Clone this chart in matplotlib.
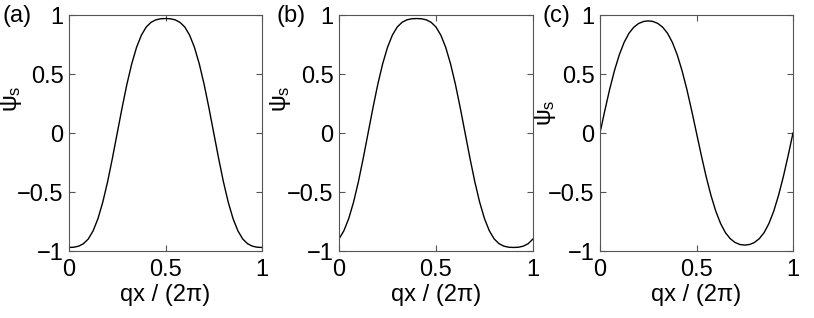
import matplotlib
matplotlib.use("Agg")
import matplotlib.pyplot as plt
import numpy as np

plt.rcParams["font.family"] = ["Liberation Sans", "DejaVu Sans"]
plt.rcParams["mathtext.fontset"] = "custom"
plt.rcParams["mathtext.rm"] = "Liberation Sans"
plt.rcParams["mathtext.it"] = "Liberation Sans"

# qx/(2pi) sample positions, step 0.025
x = [i * 0.025 for i in range(41)]

psi_a = [-0.970, -0.968, -0.959, -0.938, -0.898, -0.829, -0.726, -0.586, -0.413, -0.213,
         0.000, 0.213, 0.413, 0.586, 0.726, 0.829, 0.898, 0.938, 0.959, 0.968,
         0.970, 0.968, 0.959, 0.938, 0.898, 0.829, 0.726, 0.586, 0.413, 0.213,
         0.000, -0.213, -0.413, -0.586, -0.726, -0.829, -0.898, -0.938, -0.959, -0.968,
         -0.970]

psi_b = [-0.898, -0.829, -0.726, -0.586, -0.413, -0.213, 0.000, 0.213, 0.413, 0.586,
         0.726, 0.829, 0.898, 0.938, 0.959, 0.968, 0.970, 0.968, 0.959, 0.938,
         0.898, 0.829, 0.726, 0.586, 0.413, 0.213, 0.000, -0.213, -0.413, -0.586,
         -0.726, -0.829, -0.898, -0.938, -0.959, -0.968, -0.970, -0.968, -0.959, -0.938,
         -0.898]

psi_c = [0.000, 0.190, 0.370, 0.529, 0.663, 0.768, 0.845, 0.896, 0.928, 0.945,
         0.950, 0.945, 0.928, 0.896, 0.845, 0.768, 0.663, 0.529, 0.370, 0.190,
         0.000, -0.190, -0.370, -0.529, -0.663, -0.768, -0.845, -0.896, -0.928, -0.945,
         -0.950, -0.945, -0.928, -0.896, -0.845, -0.768, -0.663, -0.529, -0.370, -0.190,
         0.000]

panel_labels = ["(a)", "(b)", "(c)"]
xticks = [0, 0.5, 1]
xticklabels = ["0", "0.5", "1"]
yticks = [-1, -0.5, 0, 0.5, 1]
yticklabels = ["\u22121", "\u22120.5", "0", "0.5", "1"]

W, H = 814, 318
FS = 17
fig = plt.figure(figsize=(W / 100, H / 100), dpi=100)
fig.patch.set_facecolor("white")

# axes boxes in pixels: left, top, right, bottom
boxes = [(69, 15, 262, 251), (339, 15, 533, 251), (600, 15, 793, 251)]
ylab_pos = [(-0.235, 0.644), (-0.235, 0.644), (-0.22, 0.585)]
lab_x = [3, 277, 542]

for k, (data, box) in enumerate(zip([psi_a, psi_b, psi_c], boxes)):
    l, t, r, b = box
    ax = fig.add_axes([l / W, 1 - b / H, (r - l) / W, (b - t) / H])
    ax.plot(x, data, color="black", lw=1.0)
    ax.set_xlim(0, 1)
    ax.set_ylim(-1, 1)
    ax.set_xticks(xticks)
    ax.set_xticklabels(xticklabels)
    ax.set_yticks(yticks)
    ax.set_yticklabels(yticklabels)
    ax.tick_params(direction="in", top=True, right=True, length=4,
                   width=0.8, color="#555555", labelsize=FS)
    ax.tick_params(axis="x", pad=6)
    ax.tick_params(axis="y", pad=4)
    for s in ax.spines.values():
        s.set_color("#555555")
        s.set_linewidth(0.8)
    ax.set_xlabel("qx / (2\u03c0)", fontsize=FS, labelpad=2)
    ax.set_ylabel(r"$\psi_s$", fontsize=FS)
    ax.yaxis.set_label_coords(*ylab_pos[k])
    fig.text(lab_x[k] / W, 1 - 16 / H, panel_labels[k], fontsize=FS,
             ha="left", va="center")

fig.savefig("out.png", dpi=100)
